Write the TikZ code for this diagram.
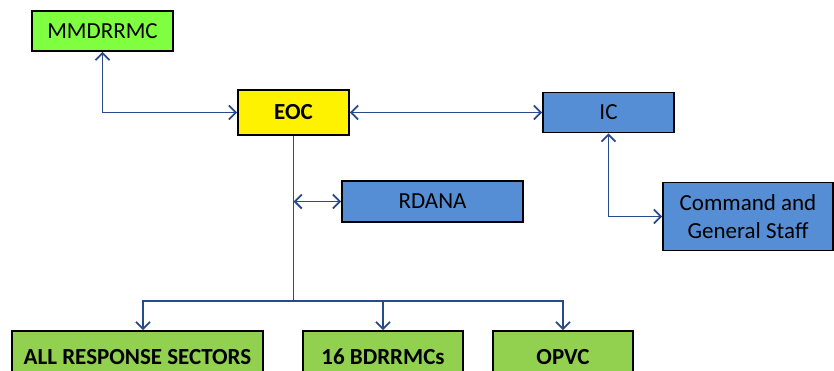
\documentclass[tikz,border=0pt]{standalone}
\usepackage{fontspec}
\setmainfont{Carlito}
\usepackage{tikz}
\usetikzlibrary{arrows.meta,positioning}

\definecolor{limegreen}{HTML}{80FF40}
\definecolor{sectorgreen}{HTML}{92D050}
\definecolor{officeblue}{HTML}{558ED5}
\definecolor{linkblue}{HTML}{284A8C}

\begin{document}
\begin{tikzpicture}
[font=\fontsize{11.5}{14}\selectfont,
box/.style={rectangle,draw=black,line width=0.8pt,inner sep=0pt,
minimum height=20pt,align=center},
green box/.style={box,fill=limegreen},
yellow box/.style={box,fill=yellow,font=\fontsize{11.5}{14}\selectfont\bfseries},
blue box/.style={box,fill=officeblue},
sector box/.style={box,fill=sectorgreen,minimum height=26pt,
font=\fontsize{11.5}{14}\selectfont\bfseries},
link/.style={draw=linkblue,line width=0.95pt,
>={Straight Barb[length=3.5pt,width=7pt]}},
node distance=1cm,on grid]

\useasboundingbox (-146.75pt,-128.75pt) rectangle (270.25pt,56.25pt);

\node [yellow box,minimum width=55.5pt,minimum height=22.5pt] (eoc) {EOC};
\node [green box,minimum width=70.5pt] (mmdrrmc)
[above left=40.75pt and 95.5pt of eoc] {MMDRRMC};
\node [blue box,minimum width=65.5pt] (ic) [right=157.5pt of eoc] {IC};
\node [blue box,minimum width=90.5pt,minimum height=20.5pt] (rdana)
[below right=44.5pt and 69.5pt of eoc] {RDANA};
\node [blue box,minimum width=85pt,minimum height=34pt] (cgs)
[below right=52pt and 69.75pt of ic] {Command and\\General Staff};

% response level
\node [sector box,minimum width=80pt] (bdrrmc)
[below right=122.25pt and 44.75pt of eoc] {16 BDRRMCs};
\node [sector box,minimum width=125.5pt] (all) [left=122.75pt of bdrrmc]
{ALL RESPONSE SECTORS};
\node [sector box,minimum width=70pt] (opvc) [right=90pt of bdrrmc] {OPVC};
\coordinate [below=94.25pt of eoc] (bus);

\draw [link,<->] (eoc.west) -| (mmdrrmc.south);
\draw [link,<->] (eoc.east) -- (ic.west);
\draw [link,<->] (ic.south) |- (cgs.west);
\draw [link] (eoc.south) -- (bus);
\draw [link,<->] (rdana.west -| eoc.south) -- (rdana.west);
\draw [link,->] (bus) -| ([xshift=2.75pt]all.north);
\draw [link,->] (bus) -| (bdrrmc.north);
\draw [link,->] (bus) -| (opvc.north);
\end{tikzpicture}
\end{document}
